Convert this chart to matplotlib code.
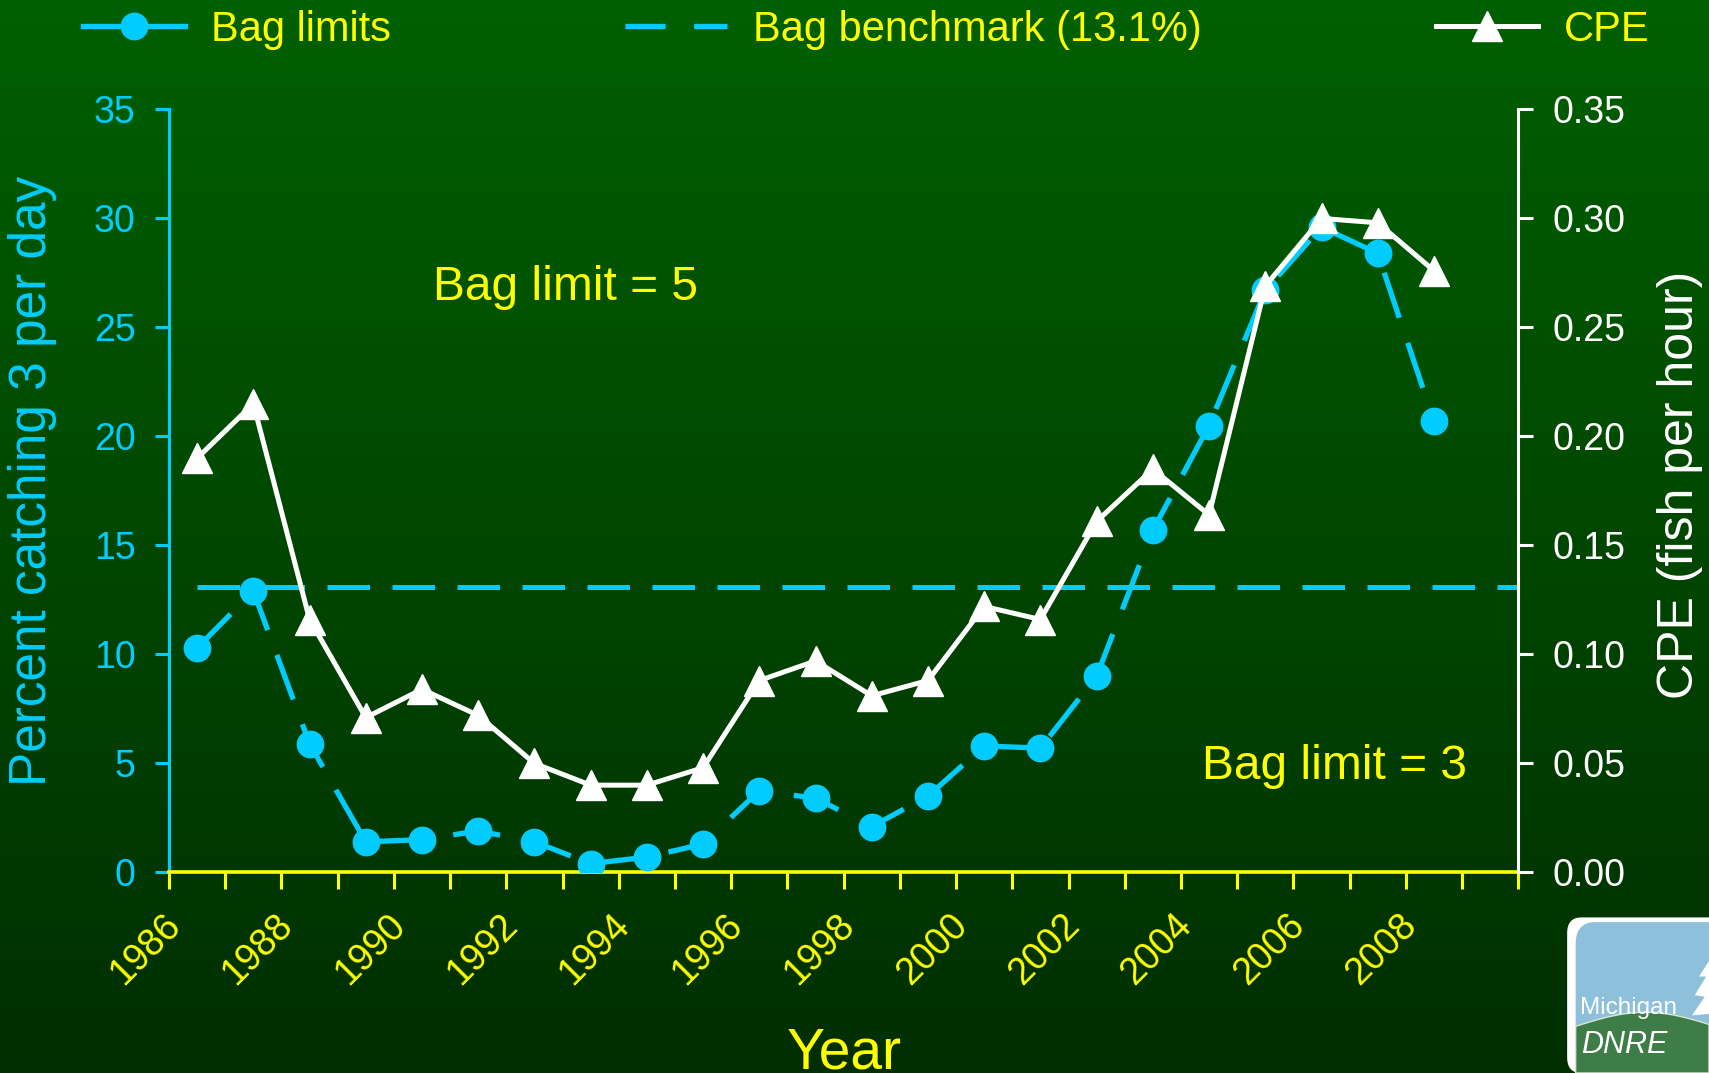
import numpy as np
import matplotlib
matplotlib.use("Agg")
import matplotlib.pyplot as plt
from matplotlib.lines import Line2D
from matplotlib.patches import FancyBboxPatch, Polygon

plt.rcParams['font.family'] = ['Liberation Sans', 'DejaVu Sans']

# data
years = list(range(1986, 2009))
bag_pct = [10.3, 12.9, 5.9, 1.4, 1.5, 1.9, 1.4, 0.4, 0.7, 1.3, 3.75, 3.4, 2.1,
           3.5, 5.8, 5.7, 9.0, 15.7, 20.5, 26.7, 29.6, 28.4, 20.7]
cpe = [0.190, 0.215, 0.116, 0.071, 0.084, 0.072, 0.050, 0.040, 0.040, 0.048,
       0.088, 0.097, 0.081, 0.088, 0.122, 0.116, 0.161, 0.185, 0.164, 0.269,
       0.300, 0.298, 0.276]
benchmark = 13.1
label_years = years[::2]

CYAN = '#00CCFF'
YELLOW = '#FFFF00'
WHITE = '#FFFFFF'

fig = plt.figure(figsize=(17.09, 10.73), dpi=100)

# gradient background
bg = fig.add_axes([0, 0, 1, 1], zorder=-10)
grad = np.linspace(0, 1, 256).reshape(-1, 1)
top = np.array([0, 96, 0]) / 255
bot = np.array([0, 46, 0]) / 255
img = top + (bot - top) * grad[..., None]
bg.imshow(img, aspect='auto', extent=[0, 1, 0, 1])
bg.axis('off')

ax = fig.add_axes([0.0989, 0.187, 0.7895, 0.711])
ax.patch.set_alpha(0)
ax2 = ax.twinx()

x = np.arange(len(years))

# bag limits
ax.plot(x, bag_pct, color=CYAN, lw=3.8, ls=(0, (9, 5)), marker='o', ms=19,
        mec=CYAN, zorder=3)
ax.hlines(benchmark, x[0], len(years) + 0.5, color=CYAN, lw=3.6,
          linestyles=[(0, (8.5, 4.5))], zorder=2)
# CPE
ax2.plot(x, cpe, color=WHITE, lw=3.6, marker='^', ms=21, zorder=4)

ax.set_xlim(-0.5, len(years) + 0.5)
ax.set_ylim(0, 35)
ax2.set_ylim(0, 0.35)

ax.set_yticks(np.arange(0, 36, 5))
ax2.set_yticks(np.arange(0, 0.351, 0.05))
ax2.set_yticklabels([f'{v:.2f}' for v in np.arange(0, 0.351, 0.05)])

# x axis: ticks at category boundaries, labels every 2 years
# (labels sit slightly left of the category centre, as Excel draws them)
ax.set_xticks(np.arange(-0.5, len(years) + 1, 1), minor=True)
ax.set_xticks(x[::2] - 0.4)
ax.set_xticklabels([str(y) for y in label_years], rotation=45, ha='right',
                   va='center', rotation_mode='anchor')
ax.tick_params(axis='x', which='major', length=0, pad=34, colors=YELLOW, labelsize=27)
ax.tick_params(axis='x', which='minor', length=12, width=2.2, color=YELLOW, direction='out')
ax.tick_params(axis='y', length=10, width=2.2, colors=CYAN, labelsize=27, pad=14)
ax2.tick_params(axis='y', length=11, width=2.2, colors=WHITE, labelsize=27, pad=14)

for sp in ['top', 'right']:
    ax.spines[sp].set_visible(False)
ax.spines['left'].set_color(CYAN)
ax.spines['left'].set_linewidth(2.2)
ax.spines['bottom'].set_color(YELLOW)
ax.spines['bottom'].set_linewidth(2.6)
ax2.spines['top'].set_visible(False)
ax2.spines['left'].set_visible(False)
ax2.spines['bottom'].set_visible(False)
ax2.spines['right'].set_color(WHITE)
ax2.spines['right'].set_linewidth(2.2)

# axis titles
fig.text(0.019, 0.552, 'Percent catching 3 per day', rotation=90, color=CYAN,
         fontsize=37, ha='center', va='center')
fig.text(0.983, 0.548, 'CPE (fish per hour)', rotation=90, color=WHITE,
         fontsize=36, ha='center', va='center')
fig.text(0.494, 0.004, 'Year', color=YELLOW, fontsize=41, ha='center', va='baseline')

# annotations
ax.text(0.294, 0.767, 'Bag limit = 5', transform=ax.transAxes, color=YELLOW,
        fontsize=34.5, ha='center', va='center')
ax.text(0.864, 0.139, 'Bag limit = 3', transform=ax.transAxes, color=YELLOW,
        fontsize=34.5, ha='center', va='center')

# legend
handles = [
    Line2D([], [], color=CYAN, lw=3.8, marker='o', ms=19),
    Line2D([], [], color=CYAN, lw=3.8, ls=(0, (7.6, 5.4))),
    Line2D([], [], color=WHITE, lw=3.6, marker='^', ms=21),
]
leg = fig.legend(handles, ['Bag limits', 'Bag benchmark (13.1%)', 'CPE'],
                 loc='upper left', bbox_to_anchor=(0.0266, 1.026), ncol=3,
                 frameon=False, fontsize=30, handlelength=2.45, handletextpad=0.62,
                 columnspacing=5.62)
for t in leg.get_texts():
    t.set_color(YELLOW)

# logo in the corner
logo = fig.add_axes([0.917, 0.0, 0.083, 0.145])
logo.set_xlim(0, 1)
logo.set_ylim(0, 1)
logo.axis('off')
logo.add_patch(FancyBboxPatch((0.0, 0.0), 1.2, 1.0, boxstyle='round,pad=0,rounding_size=0.10',
                              fc='white', ec='none', clip_on=False))
logo.add_patch(FancyBboxPatch((0.06, 0.0), 1.2, 0.97, boxstyle='round,pad=0,rounding_size=0.14',
                              fc='#8EBFDB', ec='none'))
hx = np.linspace(0.06, 1.0, 50)
hy = 0.30 + 0.09 * np.sin((hx - 0.06) * 3.2)
logo.add_patch(Polygon(np.column_stack([np.r_[hx, 1.0, 0.06], np.r_[hy, 0, 0]]),
                       fc='#3E7D48', ec='#d8e8d0', lw=1))
logo.add_patch(Polygon([[1.0, 0.72], [0.93, 0.62], [0.98, 0.62], [0.90, 0.50],
                        [0.97, 0.49], [0.88, 0.37], [1.0, 0.38]], fc='white', ec='none'))
logo.text(0.09, 0.42, 'Michigan', color='white', fontsize=17.5, va='center')
logo.text(0.10, 0.18, 'DNRE', color='white', fontsize=22, style='italic', va='center')

fig.savefig('out.png', dpi=100)
